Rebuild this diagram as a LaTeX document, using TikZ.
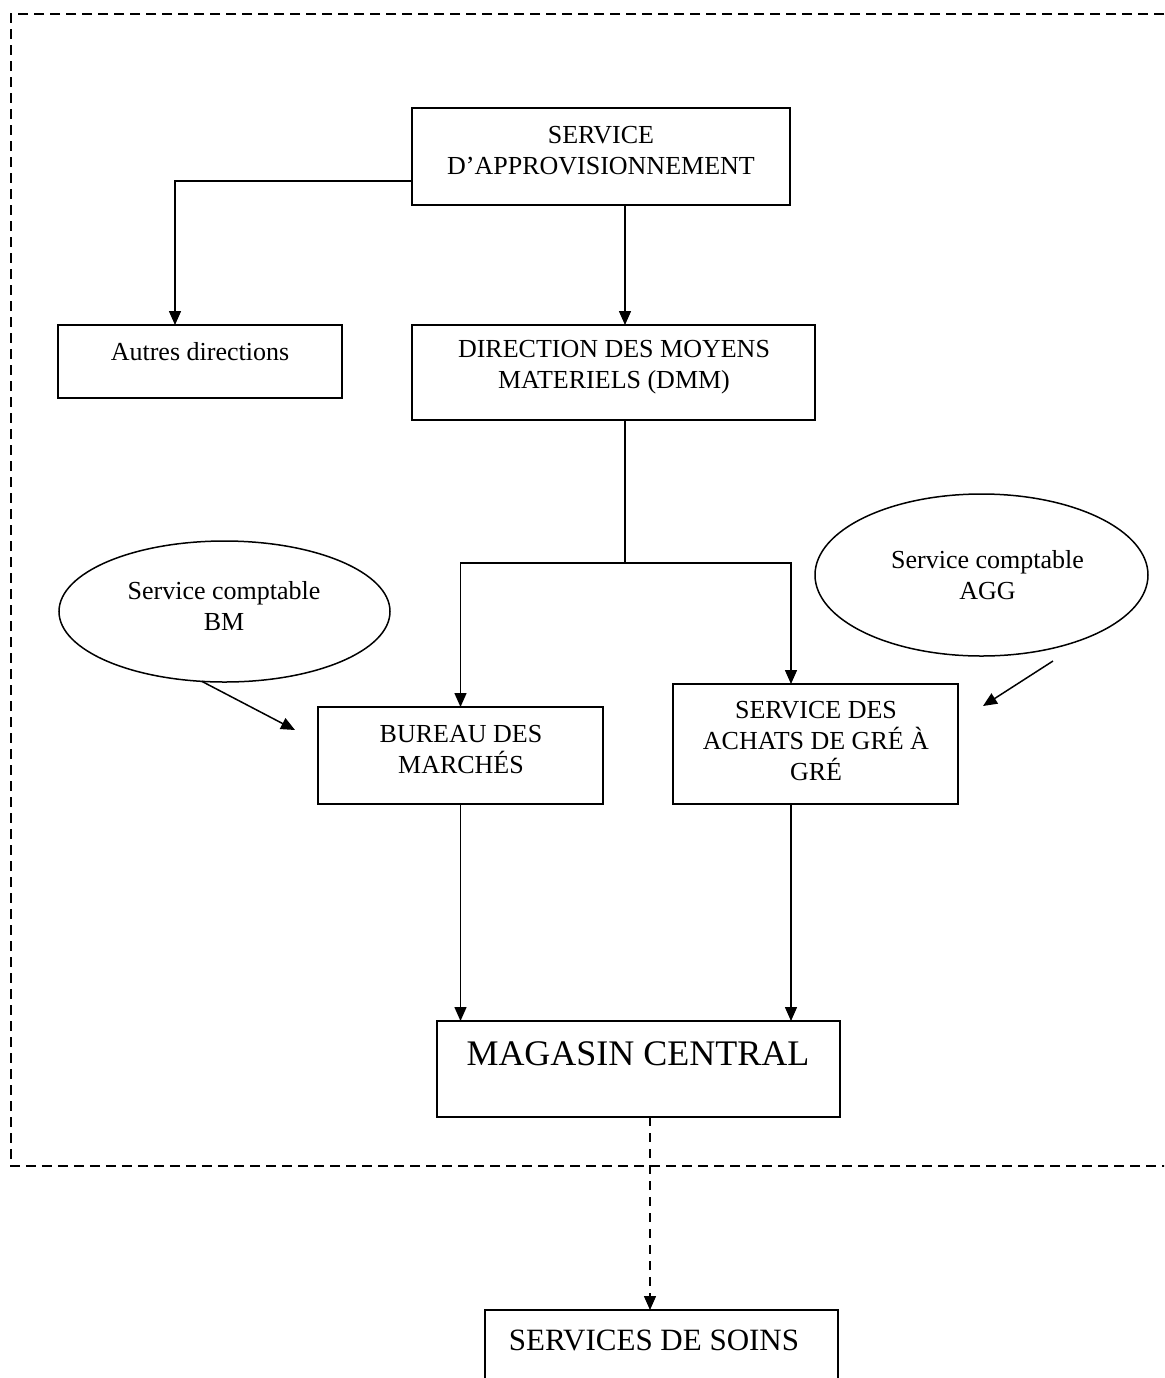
\documentclass[tikz,border=0pt]{standalone}
\usepackage{fontspec}
\setmainfont{Liberation Serif}
\usetikzlibrary{arrows.meta,shapes.geometric}
\begin{document}
\begin{tikzpicture}[x=0.5pt,y=-0.5pt,
  box/.style={draw,line width=0.75pt,inner sep=0pt,outer sep=0pt},
  oval/.style={draw,ellipse,line width=0.75pt,inner sep=0pt,outer sep=0pt},
  lbl/.style={align=center,font=\fontsize{13}{15.5}\selectfont,inner sep=0pt},
  link/.style={line width=0.75pt,-{Triangle[length=7pt,width=6pt]}},
  dlink/.style={link,dash pattern=on 4.5pt off 3.5pt},
  frame/.style={line width=0.8pt,dash pattern=on 5pt off 3pt}]

\clip (0,0) rectangle (1164,1378);
\fill[white] (0,0) rectangle (1164,1378);

% dashed outline of the establishment
\draw[frame] (1180,14) -- (11,14) -- (11,1166) -- (1180,1166);

% boxes
\node[box,minimum width=189pt,minimum height=48.5pt] (sa) at (601,156.5) {};
\node[box,minimum width=142pt,minimum height=36.5pt] (autres) at (200,361.5) {};
\node[box,minimum width=201.5pt,minimum height=47.5pt] (dmm) at (613.5,372.5) {};
\node[box,minimum width=142.5pt,minimum height=48.5pt] (bm) at (460.5,755.5) {};
\node[box,minimum width=142.5pt,minimum height=60pt] (sagg) at (815.5,744) {};
\node[box,minimum width=201.5pt,minimum height=48pt] (mag) at (638.5,1069) {};
\node[box,minimum width=176.5pt,minimum height=55pt] (soins) at (661.5,1365) {};

% accounting services
\node[oval,minimum width=165.5pt,minimum height=70.5pt] (bmell) at (224.5,611.5) {};
\node[oval,minimum width=166.5pt,minimum height=81pt] (aggell) at (981.5,575) {};

% labels
\node[lbl] (sa-t) at (601,151) {SERVICE\\D’APPROVISIONNEMENT};
\node[lbl] (autres-t) at (200,352) {Autres directions};
\node[lbl] (dmm-t) at (614,367) {DIRECTION DES MOYENS\\MATERIELS (DMM)};
\node[lbl] (bmell-t) at (224,606) {Service comptable\\BM};
\node[lbl] (aggell-t) at (987.5,575) {Service comptable\\AGG};
\node[lbl] (bm-t) at (461,750) {BUREAU DES\\MARCHÉS};
\node[lbl] (sagg-t) at (816,741) {SERVICE DES\\ACHATS DE GRÉ À\\GRÉ};
\node[font=\fontsize{18}{21}\selectfont,inner sep=0pt] (mag-t) at (638,1054) {MAGASIN CENTRAL};
\node[font=\fontsize{15.5}{18}\selectfont,inner sep=0pt] (soins-t) at (654,1340) {SERVICES DE SOINS};

% helper positions for the connector columns
\coordinate (xa) at (625,0);
\coordinate (xc) at (791,0);
\coordinate (xd) at (650,0);
\coordinate (split) at (625,563);
\coordinate (bmtip) at (295,730);
\coordinate (aggtail) at (1053,661);
\coordinate (aggtip) at (983,706);

% connectors
\draw[link] ([yshift=-12.25pt]sa.west) -| ([xshift=-12.5pt]autres.north);
\draw[link] (sa.south -| xa) -- (dmm.north -| xa);
\draw[line width=0.75pt] (dmm.south -| xa) -- (split);
\draw[link] (split) -| (bm.north);
\draw[link] (split) -| (sagg.north -| xc);
\draw[link] (bmell.252) -- (bmtip);
\draw[link] (aggtail) -- (aggtip);
\draw[link] (bm.south) -- (bm.south |- mag.north);
\draw[link] (sagg.south -| xc) -- (mag.north -| xc);
\draw[dlink] (mag.south -| xd) -- (soins.north -| xd);
\end{tikzpicture}
\end{document}
